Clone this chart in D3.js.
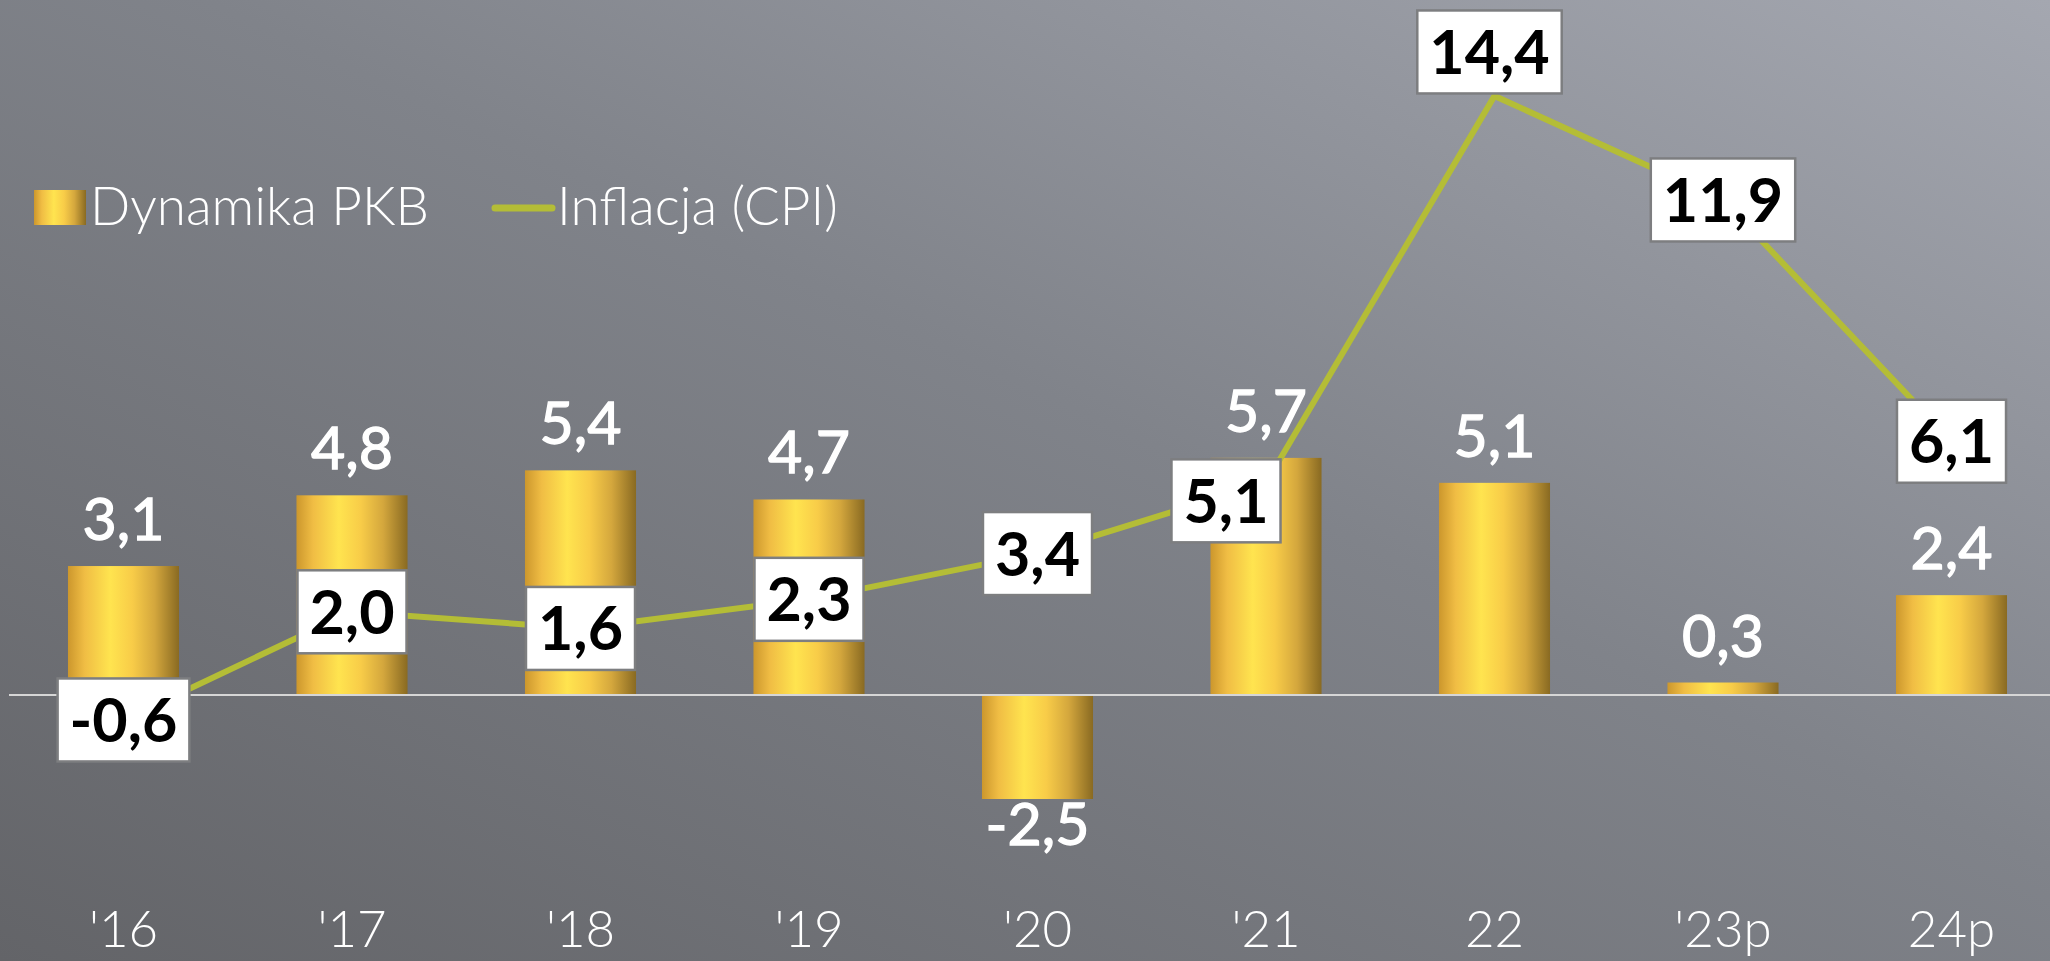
<!DOCTYPE html>
<html>
<head>
<meta charset="utf-8">
<script src="https://cdn.jsdelivr.net/npm/d3@7"></script>
<style>
  html, body { margin: 0; padding: 0; overflow: hidden; }
  svg { display: block; }
</style>
</head>
<body>
<div id="chart"></div>
<script>
// data
var years = ["'16", "'17", "'18", "'19", "'20", "'21", "22", "'23p", "24p"];
var gdp = [3.1, 4.8, 5.4, 4.7, -2.5, 5.7, 5.1, 0.3, 2.4];
var cpi = [-0.6, 2.0, 1.6, 2.3, 3.4, 5.1, 14.4, 11.9, 6.1];
var legendLabels = ["Dynamika PKB", "Inflacja (CPI)"];

var W = 2050, H = 961;
var fmt = function (v) { return v.toFixed(1).replace(".", ","); };

var svg = d3.select("#chart").append("svg")
    .attr("width", W)
    .attr("height", H);

var defs = svg.append("defs");

// background
var bg = defs.append("linearGradient")
    .attr("id", "bg")
    .attr("x1", 0).attr("y1", 1).attr("x2", 1).attr("y2", 0);
bg.append("stop").attr("offset", "0%").attr("stop-color", "#636468");
bg.append("stop").attr("offset", "55%").attr("stop-color", "#80838a");
bg.append("stop").attr("offset", "100%").attr("stop-color", "#a4a7b0");

svg.append("rect")
    .attr("width", W).attr("height", H)
    .attr("fill", "url(#bg)");

// gold bar gradient
var gold = defs.append("linearGradient")
    .attr("id", "gold")
    .attr("x1", 0).attr("y1", 0).attr("x2", 1).attr("y2", 0);
[["0%", "#cc972d"], ["15%", "#f0bd44"], ["38%", "#ffe44f"], ["58%", "#f8cc48"],
 ["78%", "#d4a73d"], ["100%", "#896a22"]].forEach(function (s) {
    gold.append("stop").attr("offset", s[0]).attr("stop-color", s[1]);
});

// scales
var x = d3.scaleBand()
    .domain(years)
    .range([9.25, 9.25 + 228.5 * years.length])
    .paddingInner(0.514)
    .paddingOuter(0.257);

var y = d3.scaleLinear()
    .domain([-3, 15])
    .range([695 + 3 * 41.6, 695 - 15 * 41.6]);

var cx = function (d) { return x(d) + x.bandwidth() / 2; };

// bars
svg.selectAll(".bar")
    .data(gdp)
    .enter().append("rect")
    .attr("class", "bar")
    .attr("x", function (d, i) { return x(years[i]); })
    .attr("width", x.bandwidth())
    .attr("y", function (d) { return y(Math.max(0, d)); })
    .attr("height", function (d) { return Math.abs(y(d) - y(0)); })
    .attr("fill", "url(#gold)");

// zero line
svg.append("line")
    .attr("x1", 9).attr("x2", W)
    .attr("y1", y(0)).attr("y2", y(0))
    .attr("stroke", "#d6d6d6")
    .attr("stroke-width", 2);

// bar value labels
svg.selectAll(".gdpLabel")
    .data(gdp)
    .enter().append("text")
    .attr("class", "gdpLabel")
    .attr("x", function (d, i) { return cx(years[i]); })
    .attr("y", function (d) { return d >= 0 ? y(d) - 26 : y(d) + 46; })
    .attr("text-anchor", "middle")
    .style("font-family", "Lato, 'Open Sans', sans-serif")
    .style("font-size", "59px")
    .style("font-weight", "400")
    .style("fill", "#ffffff")
    .style("stroke", "#ffffff")
    .style("stroke-width", "1.3px")
    .text(function (d) { return fmt(d); });

// x axis labels
svg.selectAll(".yearLabel")
    .data(years)
    .enter().append("text")
    .attr("class", "yearLabel")
    .attr("x", function (d) { return cx(d); })
    .attr("y", 947)
    .attr("text-anchor", "middle")
    .style("font-family", "Lato, 'Open Sans', sans-serif")
    .style("font-size", "51px")
    .style("font-weight", "300")
    .style("fill", "#ffffff")
    .text(function (d) { return d; });

// inflation line
var line = d3.line()
    .x(function (d, i) { return cx(years[i]); })
    .y(function (d) { return y(d); });

svg.append("path")
    .datum(cpi)
    .attr("d", line)
    .attr("fill", "none")
    .attr("stroke", "#b4bd36")
    .attr("stroke-width", 6)
    .attr("stroke-linejoin", "miter");

// inflation labels (a couple are nudged off the line like in the original)
var nudge = { 5: [-40, 18], 6: [-5, -44] };
var boxH = 83, pad = 12;

var lbl = svg.selectAll(".cpiLabel")
    .data(cpi)
    .enter().append("g")
    .attr("class", "cpiLabel")
    .attr("transform", function (d, i) {
        var n = nudge[i] || [0, 0];
        return "translate(" + (cx(years[i]) + n[0]) + "," + (y(d) + n[1]) + ")";
    });

var rects = lbl.append("rect")
    .attr("fill", "#ffffff")
    .attr("stroke", "#7d7e80")
    .attr("stroke-width", 2.5);

var texts = lbl.append("text")
    .attr("text-anchor", "middle")
    .attr("y", 22)
    .style("font-family", "Lato, 'Open Sans', sans-serif")
    .style("font-size", "61px")
    .style("font-weight", "700")
    .style("fill", "#000000")
    .text(function (d) { return fmt(d); });

texts.each(function (d, i) {
    var w = this.getComputedTextLength() + pad * 2;
    d3.select(rects.nodes()[i])
        .attr("x", -w / 2)
        .attr("y", -boxH / 2)
        .attr("width", w)
        .attr("height", boxH);
});

// legend
var legend = svg.append("g");

legend.append("rect")
    .attr("x", 34).attr("y", 190)
    .attr("width", 52).attr("height", 35)
    .attr("fill", "url(#gold)");

legend.append("text")
    .attr("x", 90).attr("y", 225)
    .style("font-family", "Lato, 'Open Sans', sans-serif")
    .style("font-size", "53px")
    .style("font-weight", "300")
    .style("fill", "#ffffff")
    .text(legendLabels[0]);

legend.append("line")
    .attr("x1", 495).attr("x2", 552)
    .attr("y1", 208).attr("y2", 208)
    .attr("stroke", "#b4bd36")
    .attr("stroke-width", 7)
    .attr("stroke-linecap", "round");

legend.append("text")
    .attr("x", 557).attr("y", 225)
    .style("font-family", "Lato, 'Open Sans', sans-serif")
    .style("font-size", "53px")
    .style("font-weight", "300")
    .style("fill", "#ffffff")
    .text(legendLabels[1]);
</script>
</body>
</html>
